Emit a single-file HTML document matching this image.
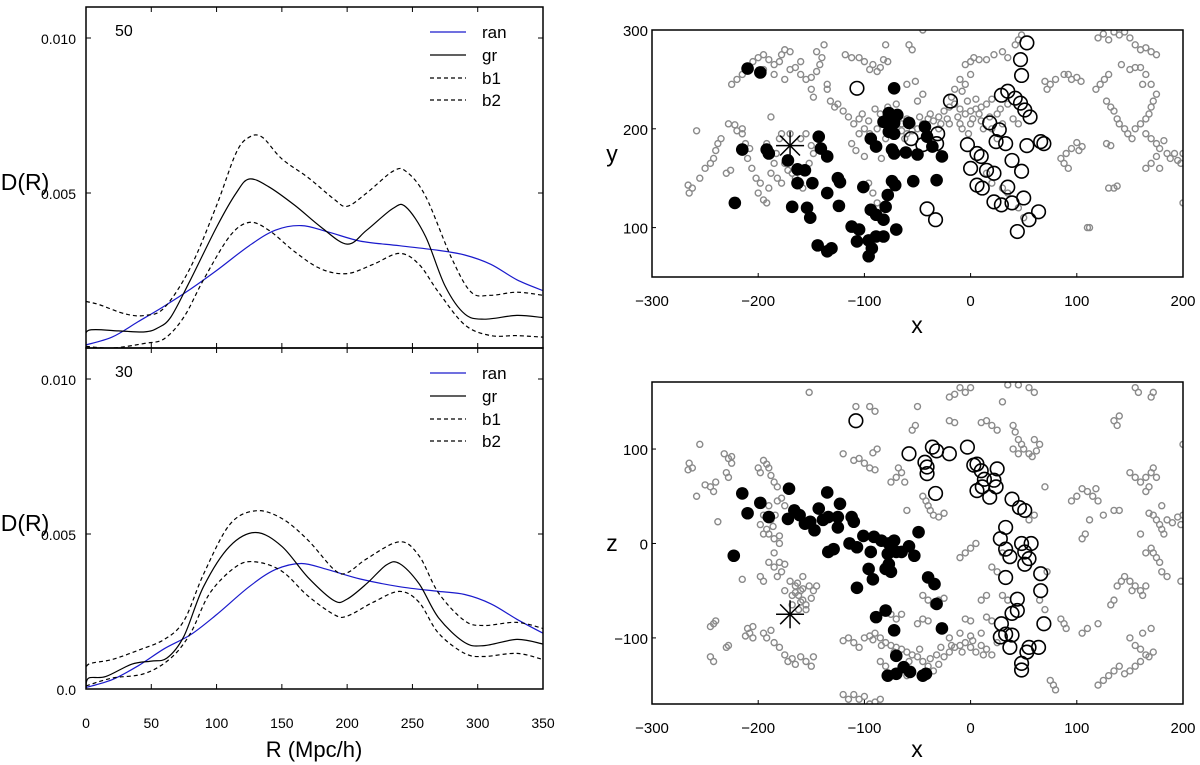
<!DOCTYPE html>
<html><head><meta charset="utf-8"><style>
body{margin:0;background:#fff;}
svg{display:block;font-family:"Liberation Sans",Arial,sans-serif;}
</style></head><body>
<svg id="fig" width="1200" height="765" viewBox="0 0 1200 765" xmlns="http://www.w3.org/2000/svg"></svg>
<script>
// ---------- D(R) curve data (values in units of 0.001) ----------
const topRanR=[0,20,40,60,80,100,125,145,165,185,210,240,270,290,310,330,350];
const topRanV=[0.1,0.35,0.85,1.35,1.9,2.5,3.3,3.8,3.95,3.75,3.45,3.3,3.15,3.0,2.7,2.2,1.85];
const topGrR=[0,2,25,45,55,65,80,100,115,125,140,160,180,200,215,235,245,260,275,290,305,330,350];
const topGrV=[0.15,0.57,0.55,0.52,0.65,1.0,2.2,3.9,5.0,5.45,5.2,4.6,3.9,3.35,3.8,4.5,4.55,3.6,2.0,1.1,0.93,1.05,0.98];
const topB1R=[0,10,30,45,60,80,100,115,125,135,150,170,190,200,215,235,245,260,280,295,310,330,350];
const topB1V=[1.5,1.4,1.1,1.05,1.3,2.6,4.6,6.3,6.8,6.8,6.1,5.5,4.8,4.57,5.0,5.7,5.7,4.9,2.9,1.8,1.7,1.8,1.7];
const topB2R=[0,20,45,60,75,90,110,125,140,160,180,200,220,240,255,270,290,310,330,350];
const topB2V=[0.05,0.0,0.15,0.3,1.0,2.2,3.6,4.05,3.8,3.1,2.55,2.4,2.7,3.05,2.7,1.8,0.75,0.4,0.4,0.35];
const botRanR=[0,20,40,60,80,100,125,145,165,185,210,240,270,290,310,330,350];
const botRanV=[0.05,0.3,0.75,1.3,1.75,2.4,3.3,3.85,4.05,3.85,3.55,3.3,3.15,3.05,2.75,2.25,1.8];
const botGrR=[0,2,15,35,50,62,75,90,110,130,150,170,190,200,215,230,240,255,270,290,305,330,350];
const botGrV=[0.05,0.35,0.4,0.8,0.9,1.0,1.7,3.3,4.6,5.05,4.6,3.6,2.85,2.9,3.4,4.0,4.05,3.4,2.3,1.5,1.4,1.6,1.45];
const botB1R=[0,2,20,40,60,75,90,110,130,150,170,190,200,215,240,255,270,290,305,330,350];
const botB1V=[0.5,0.8,0.95,1.25,1.6,2.2,3.7,5.3,5.75,5.5,4.8,3.85,3.75,4.2,4.75,4.3,3.1,2.2,2.05,2.15,1.95];
const botB2R=[0,20,45,65,80,95,115,130,150,170,190,200,220,240,255,270,290,305,330,350];
const botB2V=[0.1,0.35,0.5,1.0,1.8,3.1,3.95,4.1,3.8,3.0,2.4,2.35,2.8,3.15,2.8,1.8,1.15,1.05,1.15,0.95];
const rTicks=[0,50,100,150,200,250,300,350];
const dTicksTop=[0.010,0.005];
const dTickLabelsTop=["0.010","0.005"];
const dTicksBot=[0.010,0.005,0.0];
const dTickLabelsBot=["0.010","0.005","0.0"];
const legendNames=["ran","gr","b1","b2"];

// ---------- scatter data ----------
const xyFilled=[[-210,261],[-198,257],[-72,241],[-215,179],[-192,179],[-190,175],[-172,168],[-143,192],[-141,180],[-135,172],[-163,159],[-156,158],[-163,145],[-149,145],[-135,135],[-125,150],[-123,146],[-124,122],[-222,125],[-168,121],[-154,120],[-151,110],[-144,82],[-135,76],[-131,79],[-112,101],[-105,98],[-107,86],[-101,141],[-96,87],[-96,71],[-93,79],[-89,91],[-82,91],[-94,118],[-89,113],[-82,108],[-80,121],[-78,133],[-74,147],[-71,143],[-70,98],[-94,190],[-89,182],[-82,207],[-77,216],[-72,206],[-69,214],[-77,197],[-72,195],[-74,179],[-72,175],[-61,176],[-58,206],[-50,174],[-43,202],[-41,192],[-36,182],[-27,172],[-54,147],[-32,148]];
const xyOpen=[[53,287],[47,270],[48,254],[-107,241],[-19,228],[29,234],[35,238],[42,231],[47,226],[51,219],[56,212],[18,206],[27,199],[24,187],[33,185],[53,183],[66,187],[69,185],[-3,184],[6,175],[10,172],[39,168],[48,157],[0,160],[15,158],[22,155],[6,143],[11,140],[35,141],[22,126],[29,123],[39,125],[50,130],[64,116],[55,108],[44,96],[-41,119],[-33,108],[-31,195],[-56,190],[-45,184],[-32,185]];
const xyStar=[[-170,183]];
const xyGrey=[[-225,245],[-220,250],[-215,255],[-210,262],[-205,268],[-200,272],[-195,275],[-190,270],[-185,265],[-180,268],[-178,275],[-175,280],[-170,278],[-165,262],[-160,255],[-155,250],[-150,252],[-145,258],[-142,265],[-140,272],[-145,278],[-138,285],[-150,240],[-148,232],[-135,245],[-175,250],[-185,255],[-195,260],[-160,268],[-170,260],
[-266,143],[-265,135],[-262,140],[-258,198],[-255,150],[-250,160],[-245,165],[-242,170],[-240,178],[-238,185],[-235,190],[-230,155],[-226,158],[-228,205],[-222,204],[-220,198],[-215,195],[-212,185],[-208,180],[-215,200],[-206,160],[-202,150],[-198,145],[-200,135],[-195,128],[-192,125],[-190,140],[-188,155],[-185,165],[-183,175],[-180,190],[-178,195],[-175,165],[-172,158],[-168,155],[-165,150],[-182,150],[-178,145],[-160,145],[-158,140],[-155,195],[-160,190],[-150,183],[-148,175],[-152,165],[-210,170],[-188,212],[-192,185],[-170,195],
[-118,275],[-112,272],[-105,272],[-100,268],[-95,260],[-92,265],[-88,258],[-85,262],[-82,270],[-80,285],[-78,268],[-58,285],[-55,280],[-60,245],[-50,228],[-45,235],[-52,248],[-110,205],[-105,210],[-100,200],[-95,195],[-102,215],[-90,220],[-85,215],[-128,222],[-125,225],[-120,218],[-132,228],[-135,240],[-112,185],[-108,178],[-100,172],[-96,145],[-92,135],[-88,125],[-84,170],[-70,200],[-65,205],[-60,195],[-55,198],[-50,200],[-45,205],[-40,210],[-35,208],[-30,212],[-25,218],[-20,222],[-15,225],[-10,220],[-5,215],[0,218],[5,220],[10,222],[15,225],[20,230],[-60,210],[-40,195],[-30,200],[-20,205],[-10,205],[0,205],[10,208],[20,200],[30,205],[-15,240],[-10,250],[-5,245],[0,255],[-5,265],[0,268],[3,272],[8,270],[15,270],[22,275],[30,278],[35,272],[42,285],[45,290],[48,295],[-45,300],
[-65,198],[-55,205],[-48,212],[-38,215],[-28,205],[-22,210],[-12,212],[-8,200],[2,210],[8,215],[12,200],[18,212],[25,215],[28,220],[-3,228],[5,230],[-18,232],[-8,238],[-2,195],[-88,200],[-80,190],[-96,208],[-115,212],[-105,195],[-78,222],[-70,225],[-62,190],
[70,248],[72,240],[75,245],[80,250],[88,255],[92,255],[95,250],[100,252],[104,248],[118,240],[122,245],[126,250],[130,255],[120,292],[125,296],[130,290],[135,298],[140,295],[145,298],[150,292],[155,285],[160,280],[165,282],[170,278],[175,275],[142,265],[150,260],[155,262],[160,262],[165,255],[162,245],[170,245],[128,228],[132,222],[135,218],[138,210],[140,205],[145,200],[148,195],[152,190],[155,200],[160,205],[165,210],[168,215],[170,222],[172,228],[175,235],[165,195],[170,190],[175,185],[178,180],[182,188],[185,175],[175,172],[170,165],[165,160],[178,160],[188,170],[192,175],[195,168],[200,175],[198,165],[85,170],[88,165],[90,175],[95,180],[100,186],[105,182],[102,178],[92,160],[110,100],[112,100],[128,185],[132,183],[130,140],[135,140],[138,142],[200,125],[40,210],[45,205],[35,225],[25,190],[30,140],[35,135],[45,120],[50,110],[15,155],[20,145]];
const xzFilled=[[-215,53],[-210,32],[-198,43],[-190,28],[-171,58],[-172,26],[-166,35],[-161,30],[-156,21],[-151,23],[-147,14],[-143,37],[-135,54],[-139,25],[-134,28],[-125,28],[-123,42],[-125,17],[-134,-9],[-129,-6],[-114,0],[-112,28],[-110,23],[-107,-4],[-101,8],[-94,-9],[-91,7],[-84,3],[-77,0],[-78,-11],[-72,3],[-70,-9],[-65,-9],[-58,-3],[-53,-13],[-49,12],[-96,-27],[-92,-38],[-80,-27],[-77,-22],[-75,-30],[-107,-47],[-40,-36],[-34,-43],[-32,-64],[-89,-78],[-80,-71],[-72,-92],[-27,-90],[-70,-119],[-78,-140],[-70,-138],[-63,-131],[-57,-136],[-45,-140],[-42,-138],[-223,-13]];
const xzOpen=[[-108,130],[-58,95],[-43,86],[-41,81],[-36,102],[-32,98],[-41,74],[-33,53],[-20,95],[-3,102],[3,83],[6,84],[10,77],[13,68],[11,60],[6,56],[18,49],[24,60],[25,79],[22,67],[39,47],[46,38],[51,35],[33,17],[28,5],[33,-6],[37,-14],[48,0],[57,0],[51,-9],[55,-16],[51,-22],[66,-32],[66,-50],[33,-36],[44,-59],[44,-71],[39,-74],[69,-85],[29,-85],[33,-96],[39,-97],[28,-99],[37,-110],[55,-110],[64,-110],[48,-127],[48,-134],[53,-115]];
const xzStar=[[-170,-75]];
const xzGrey=[[-265,85],[-262,80],[-266,78],[-258,50],[-255,105],[-250,62],[-245,60],[-242,55],[-240,65],[-238,23],[-232,95],[-228,90],[-225,92],[-230,75],[-228,70],[-225,85],[-200,80],[-198,75],[-195,88],[-192,84],[-190,80],[-188,72],[-185,65],[-182,60],[-190,40],[-195,30],[-198,20],[-195,10],[-192,15],[-188,25],[-185,5],[-182,45],[-178,48],[-175,40],[-180,0],[-185,-10],[-190,-20],[-185,-25],[-182,-35],[-180,-20],[-175,-22],[-195,-40],[-198,-35],[-215,-38],[-175,-50],[-170,-40],[-165,-45],[-162,-55],[-158,-60],[-155,-65],[-160,-50],[-152,-45],[-148,-50],[-155,-70],[-158,-35],[-168,-65],[-162,-70],[-145,-45],[-245,-88],[-242,-85],[-240,-82],[-245,-120],[-242,-125],[-230,-110],[-228,-108],[-210,-90],[-208,-95],[-205,-100],[-212,-98],[-205,-88],[-195,-95],[-192,-100],[-188,-92],[-185,-105],[-180,-110],[-175,-118],[-172,-125],[-168,-122],[-165,-128],[-160,-120],[-155,-125],[-150,-130],[-148,-120],[-152,160],
[-165,-52],[-160,-62],[-163,-42],[-158,-48],[-150,-58],[-168,-55],[-190,10],[-186,18],[-180,8],[-184,30],[-178,-30],[-28,-110],[-18,-108],[-8,-115],[2,-103],[12,-118],[-48,-112],[-38,-122],[-32,-118],[-92,-102],[-84,-108],[-72,-115],[-58,-125],
[-110,88],[-105,90],[-100,85],[-95,80],[-90,78],[-92,96],[-88,100],[-120,95],[-108,145],[-95,145],[-90,140],[-75,65],[-70,70],[-68,80],[-65,75],[-62,65],[-55,120],[-52,125],[-50,145],[-45,50],[-42,45],[-40,40],[-38,35],[-35,30],[-30,28],[-25,32],[-60,35],[-45,-55],[-40,-60],[-35,-65],[-30,-60],[-25,-58],[-50,-85],[-45,-80],[-40,-82],[-120,-103],[-115,-100],[-110,-105],[-105,-110],[-100,-100],[-95,-98],[-90,-95],[-85,-100],[-80,-105],[-75,-108],[-70,-110],[-65,-112],[-60,-115],[-55,-118],[-50,-120],[-45,-125],[-40,-130],[-35,-135],[-30,-128],[-25,-120],[-20,-115],[-15,-110],[-10,-108],[-5,-105],[0,-110],[5,-115],[10,-108],[15,-112],[20,-118],[25,-105],[-20,-100],[-10,-95],[0,-98],[10,-95],[-5,-80],[0,-82],[15,-78],[20,-82],[-80,-70],[-75,-75],[-70,-80],[-65,-75],[-80,-130],[-85,-125],[-60,-140],[-120,-160],[-115,-165],[-110,-160],[-105,-165],[-100,-162],[-95,-170],[-90,-168],[-85,-165],[-10,165],[-5,160],[-15,158],[0,165],[-20,155],[15,130],[20,125],[25,120],[10,128],[-20,130],[-15,128],[40,125],[42,118],[45,110],[48,105],[50,100],[55,95],[58,92],[62,98],[65,105],[60,110],[40,100],[45,95],[25,-30],[20,-25],[30,-10],[0,-5],[5,0],[-10,-15],[-5,-10],[10,-60],[15,-55],[30,-55],[35,-60],[70,-70],[65,-60],[75,-145],[78,-150],[80,-155],[85,-80],[88,-85],[90,-90],[72,-30],[70,60],[60,30],[55,25],[30,150],[35,168],[45,168],[55,165],[60,160],
[110,55],[115,50],[118,58],[105,58],[100,50],[95,45],[120,45],[112,25],[108,10],[105,5],[125,30],[135,35],[140,35],[138,-45],[142,-40],[145,-35],[150,-40],[152,-50],[155,-45],[160,-50],[162,-55],[165,-45],[135,-60],[132,-65],[120,-85],[105,-95],[110,-90],[150,-100],[155,-108],[160,-112],[165,-118],[168,-120],[172,-115],[162,-95],[170,-90],[140,-130],[135,-135],[130,-140],[145,-138],[150,-135],[155,-130],[160,-125],[125,-145],[120,-150],[150,75],[155,70],[160,65],[165,70],[170,75],[172,80],[175,70],[168,60],[165,55],[168,32],[172,30],[175,25],[178,20],[180,15],[182,10],[185,25],[190,22],[195,28],[198,20],[200,30],[170,-5],[172,-10],[175,-15],[178,-20],[180,-30],[185,-35],[160,10],[135,130],[138,125],[140,135],[155,165],[158,160],[170,155],[172,160],[200,105],[198,-40],[180,40],[165,-10]];
const sxTicks=[-300,-200,-100,0,100,200];
const yTicks=[100,200,300];
const zTicks=[-100,0,100];

const NS="http://www.w3.org/2000/svg";
const svg=document.getElementById('fig');
function mk(tag,attrs,parent){const e=document.createElementNS(NS,tag);for(const k in attrs)e.setAttribute(k,attrs[k]);(parent||svg).appendChild(e);return e;}
function txt(s,x,y,size,anchor,parent){const t=mk('text',{x:x,y:y,'font-size':size,'text-anchor':anchor||'middle',fill:'#000'},parent);t.textContent=s;return t;}
function smooth(pts){let d='M'+pts[0][0].toFixed(1)+','+pts[0][1].toFixed(1);
 for(let i=0;i<pts.length-1;i++){const p0=pts[i-1]||pts[i],p1=pts[i],p2=pts[i+1],p3=pts[i+2]||p2;
  const c1=[p1[0]+(p2[0]-p0[0])/6,p1[1]+(p2[1]-p0[1])/6],c2=[p2[0]-(p3[0]-p1[0])/6,p2[1]-(p3[1]-p1[1])/6];
  d+='C'+c1.map(v=>v.toFixed(1))+' '+c2.map(v=>v.toFixed(1))+' '+p2[0].toFixed(1)+','+p2[1].toFixed(1);}
 return d;}

// ---------- left panels ----------
const L=86,R=543;
const xR=r=>L+(r/350)*(R-L);
function dPanel(name,top,bottom,zeroY,label,series,ticks,tickLabels){
 const g=mk('g',{});
 
 
 const yD=v=>zeroY-v*31;
 const clipId='clip-'+name;
 const cp=mk('clipPath',{id:clipId},g);mk('rect',{x:L,y:top,width:R-L,height:bottom-top},cp);
 series.forEach(s=>{
  const p=mk('path',{d:smooth(s.r.map((r,i)=>[xR(r),yD(s.v[i])])),fill:'none',stroke:s.c,'stroke-width':1.2,'stroke-dasharray':s.dash||'none','clip-path':'url(#'+clipId+')'},g);
  
  
 });
 const f=mk('rect',{x:L,y:top,width:R-L,height:bottom-top,fill:'none',stroke:'#000','stroke-width':1.5},g);
 
 
 rTicks.forEach(r=>{mk('line',{x1:xR(r),x2:xR(r),y1:top,y2:top+5,stroke:'#000'},g);mk('line',{x1:xR(r),x2:xR(r),y1:bottom,y2:bottom-5,stroke:'#000'},g);});
 ticks.forEach((t,i)=>{const y=yD(t*1000);mk('line',{x1:L,x2:L+5,y1:y,y2:y,stroke:'#000'},g);mk('line',{x1:R,x2:R-5,y1:y,y2:y,stroke:'#000'},g);
  const tl=txt(tickLabels[i],76,y+6,14,'end',g);});
 const pl=txt(label,115,top+29,16,'start',g);
 const ly=[top+25,top+48,top+71,top+93];
 series.forEach((s,i)=>{
  const le=mk('g',{},g);
  
  
  mk('line',{x1:430,x2:466,y1:ly[i],y2:ly[i],stroke:s.c,'stroke-width':1.2,'stroke-dasharray':s.dash||'none'},le);
  txt(legendNames[i],482,ly[i]+6,17,'start',le);
 });
 const yt=txt('D(R)',25,top+183,23,'middle',g);
}
dPanel('top-d-panel',7,348,348,'50',[
 {name:'ran',r:topRanR,v:topRanV,c:'#1a1acc'},{name:'gr',r:topGrR,v:topGrV,c:'#000'},
 {name:'b1',r:topB1R,v:topB1V,c:'#000',dash:'4,3'},{name:'b2',r:topB2R,v:topB2V,c:'#000',dash:'4,3'}],dTicksTop,dTickLabelsTop);
dPanel('bottom-d-panel',348,689,689,'30',[
 {name:'ran',r:botRanR,v:botRanV,c:'#1a1acc'},{name:'gr',r:botGrR,v:botGrV,c:'#000'},
 {name:'b1',r:botB1R,v:botB1V,c:'#000',dash:'4,3'},{name:'b2',r:botB2R,v:botB2V,c:'#000',dash:'4,3'}],dTicksBot,dTickLabelsBot);
rTicks.forEach(r=>{const t=txt(String(r),xR(r),728,14,'middle');});
const rt=txt('R (Mpc/h)',314,757,22,'middle');



// ---------- scatter panels ----------
const SL=652,SR=1183;
const sx=x=>SL+(x+300)/500*(SR-SL);
function scatter(name,top,bottom,vmin,vmax,grey,filled,open,star,vTicks,vName,xTitleY){
 const g=mk('g',{});
 
 
 const sv=v=>bottom-(v-vmin)/(vmax-vmin)*(bottom-top);
 const cid='clip-'+name;
 const cp=mk('clipPath',{id:cid},g);mk('rect',{x:SL,y:top,width:SR-SL,height:bottom-top},cp);
 const pts=mk('g',{'clip-path':'url(#'+cid+')'},g);
 grey.forEach(p=>{const c=mk('circle',{cx:sx(p[0]),cy:sv(p[1]),r:3,fill:'none',stroke:'#8a8a8a','stroke-width':1.4},pts);
  });
 filled.forEach(p=>{const c=mk('circle',{cx:sx(p[0]),cy:sv(p[1]),r:6.3,fill:'#000'},pts);
  });
 open.forEach(p=>{const c=mk('circle',{cx:sx(p[0]),cy:sv(p[1]),r:6.8,fill:'none',stroke:'#000','stroke-width':1.6},pts);
  });
 star.forEach(p=>{const s=mk('g',{},pts);
  const cx=sx(p[0]),cy=sv(p[1]);
  for(let a=0;a<4;a++){const ang=a*Math.PI/4;mk('line',{x1:cx-14*Math.cos(ang),y1:cy-14*Math.sin(ang),x2:cx+14*Math.cos(ang),y2:cy+14*Math.sin(ang),stroke:'#000','stroke-width':1.5},s);}});
 const f=mk('rect',{x:SL,y:top,width:SR-SL,height:bottom-top,fill:'none',stroke:'#000','stroke-width':1.5},g);
 
 sxTicks.forEach(x=>{mk('line',{x1:sx(x),x2:sx(x),y1:bottom,y2:bottom-4,stroke:'#000'},g);
  const t=txt(String(x).replace('-','\u2212'),sx(x),bottom+29,15,'middle',g);});
 vTicks.forEach(v=>{mk('line',{x1:SL,x2:SL+4,y1:sv(v),y2:sv(v),stroke:'#000'},g);
  const t=txt(String(v).replace('-','\u2212'),SL-4,sv(v)+6,15,'end',g);});
 const xt=txt('x',917,xTitleY,23,'middle',g);
 const yt=txt(vName,612,(top+bottom)/2+8,23,'middle',g);
}
scatter('xy-scatter',30,277,50,300,xyGrey,xyFilled,xyOpen,xyStar,yTicks,'y',333);
scatter('xz-scatter',382,704,-170,171,xzGrey,xzFilled,xzOpen,xzStar,zTicks,'z',757);
</script>
</body></html>
